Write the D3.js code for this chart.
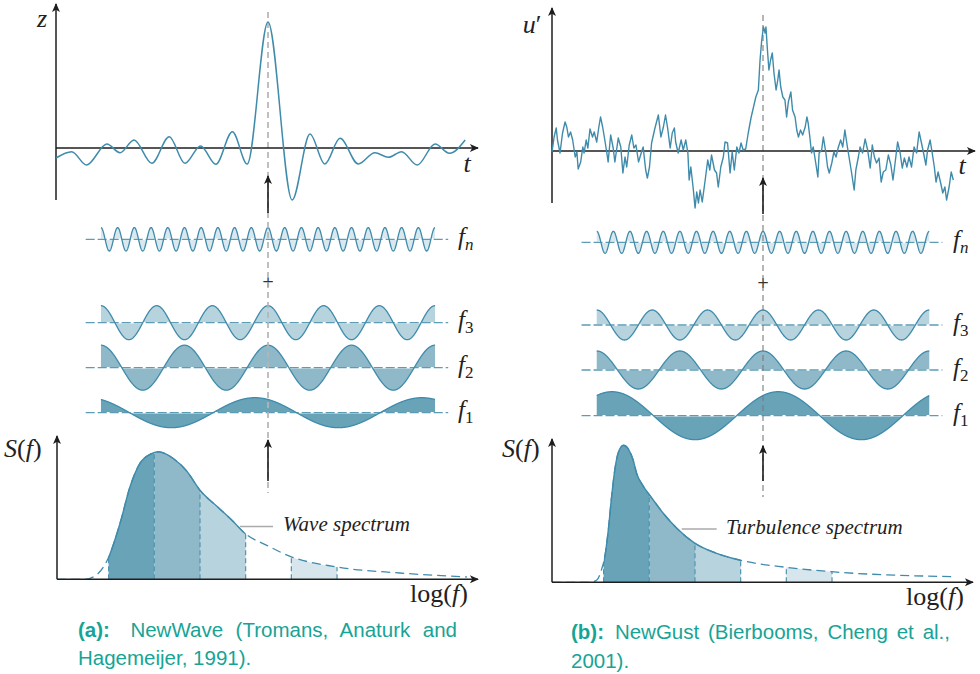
<!DOCTYPE html>
<html lang="en">
<head>
<meta charset="UTF-8">
<title>NewWave and NewGust</title>
<script src="https://d3js.org/d3.v7.min.js"></script>
<style>
  body { margin: 0; background: #fff; }
  .math { font-family: "Liberation Serif", "Times New Roman", serif; font-style: italic; fill: #222; }
  .caption { font-family: "Liberation Sans", Arial, sans-serif; font-size: 20.5px; fill: #16a496; }
</style>
</head>
<body>
<div id="chart"></div>
<script>

// ---- data ----
// NewWave surface elevation: [t, z] at the turning points
const waveSamples = [[0,-1],[3.7,-0.37],[7.2,-1.7],[12,0.4],[15.1,-0.47],[18.4,0.8],[22.6,-1.53],[26.7,1.13],
  [30.4,-1.53],[34.1,0.2],[37.7,-1.63],[41.6,1.63],[45.1,-1.6],[50,12.6],[55.7,-5.2],[59.9,1.4],[63.4,-1.6],
  [67,0.97],[71.3,-1.6],[75.2,-0.47],[78.4,-0.93],[81.5,-0.37],[85.2,-1.7],[89.4,0.4],[92.8,-0.53],[96.5,0.8]];

// NewGust turbulent velocity: [t, u']
const gustSamples = [[0,-0.1],[0.5,1.4],[1,2.3],[1.3,1.1],[1.9,-0.2],[2.5,1.8],[3.1,2.9],[3.5,2.4],[3.9,1.4],
  [4.4,1.9],[4.9,1.1],[5.5,-0.6],[5.9,-0.1],[6.2,-1.8],[6.8,-1.1],[7.3,0.4],[7.6,-0.2],[8.1,1.1],[8.5,0.3],
  [9,2.2],[9.6,1.4],[10,1.9],[10.6,0.9],[11.1,2.4],[11.5,3.4],[12,2.4],[12.4,1.4],[13,-0.2],[13.3,-1.1],
  [13.9,1.6],[14.5,0.3],[14.9,-1.1],[15.7,1.3],[16.3,0.4],[16.8,-2.2],[17.3,-0.6],[17.7,-1.6],[18.3,0.6],
  [18.9,1.6],[19.4,0.3],[19.9,0.6],[20.5,-1.1],[21,-0.4],[21.6,0.4],[22.2,-1.9],[22.6,-2.7],[23.1,-1.6],
  [23.6,0.8],[24.4,2.3],[25.2,3.6],[25.8,1.4],[26.4,2.4],[26.9,3.6],[27.4,2.3],[28,0.3],[28.5,1.8],[29,2.3],
  [29.3,0.9],[29.9,-0.2],[30.6,1.1],[31.1,0.1],[31.7,1.1],[32.2,-0.2],[32.5,-2.9],[32.9,-1.6],[33.5,-3.9],
  [33.9,-5.7],[34.3,-4.1],[34.7,-5.2],[35.1,-3.9],[35.6,-5.1],[36.3,-2.9],[36.9,-0.9],[37.4,-1.9],[37.8,-0.4],
  [38.5,-1.9],[39,-2.2],[39.4,-3.6],[40,-1.6],[40.6,-0.6],[41,0.9],[41.6,0.8],[42.2,-2.2],[42.7,-0.1],
  [43.2,-1.9],[43.8,0.4],[44.3,-0.2],[44.8,0.8],[45.3,0.1],[45.9,0.2],[46.5,1.8],[47.2,3.4],[47.7,4.3],
  [48.3,5.4],[48.9,6.1],[49.3,9.1],[49.7,11.1],[50.1,12.4],[50.5,11.8],[50.7,12.4],[51,10.4],[51.4,8.1],
  [51.8,9.1],[52.2,9.8],[52.6,7.8],[53.1,6.1],[53.5,7.1],[53.8,8.1],[54.2,6.4],[54.7,5.4],[55.2,5.1],
  [55.6,3.4],[56,4.9],[56.6,5.9],[57,4.1],[57.6,3.4],[58,2.1],[58.4,1.4],[58.9,2.1],[59.4,1.6],[60,2.4],
  [60.4,3.4],[60.7,2.8],[61.1,1.4],[61.5,-0.2],[61.9,0.4],[62.5,-1.2],[63,-2.6],[63.3,-0.2],[63.9,0.1],
  [64.3,1.4],[64.9,-0.2],[65.3,-1.6],[65.7,-2.2],[66.3,-1.2],[66.8,-0.1],[67.3,-0.6],[67.8,0.3],[68.4,1.1],
  [68.9,0.4],[69.4,2.1],[70,0.4],[70.5,-0.9],[71,-2.2],[71.6,-3.9],[72,-1.9],[72.6,-0.6],[73,0.4],
  [73.6,-0.2],[74.2,1.2],[74.8,0.1],[75.4,-1.7],[75.9,0.6],[76.4,-0.6],[76.9,-1.2],[77.5,-0.7],[78,-3.1],
  [78.5,-2.1],[79.1,-1.9],[79.7,-0.4],[80.3,-1.4],[80.8,-2.9],[81.3,-1.2],[81.9,0.9],[82.5,-0.2],[83,-1.7],
  [83.5,-0.7],[84.1,-1.6],[84.6,-0.6],[85.2,-1.6],[85.8,0.4],[86.4,-0.2],[87,1.9],[87.4,1.1],[88,-0.1],
  [88.6,-1.4],[89,0.1],[89.6,1.1],[90.1,-0.2],[90.6,-1.6],[91,-3.1],[91.5,-2.1],[92.1,-3.2],[92.6,-4.2],
  [93.1,-3.6],[93.5,-4.9],[94.1,-3.6],[94.6,-2.1],[95.1,-2.9]];

// harmonic components, top to bottom: f_n, f_3, f_2, f_1
const compSubs = ["n", "3", "2", "1"];
const compPeriod = [3.94, 13.13, 19.7, 39.4];
const waveCompAmp = [1.17, 1.7, 2.25, 1.5];
const gustCompAmp = [1.1, 1.5, 1.9, 2.4];
const waveCompPeak = [50, 50, 50, 46.9];
const gustCompPeak = [50, 50, 50, 53.6];
const compSpan = [10.6, 89.4];

// spectra: [log f, S]
const waveSpec = [[0,0],[6.6,0],[9,0.33],[12.1,2.1],[14.9,5.6],[17.3,9.3],[19.6,11.6],[22,12.5],[24,12.75],
  [27.4,12.1],[30.7,10.8],[33.8,8.9],[37.8,7.3],[41.6,5.8],[44.4,4.6],[49.6,3.4],[55.1,2.3],[65.7,1.26],
  [81.1,0.63],[96.9,0.23]];
const gustSpec = [[0,0],[9,0],[10.6,0.23],[11.8,1.4],[12.5,2.6],[13.3,5.2],[14.1,8.6],[14.9,11.4],[15.7,13],
  [16.9,13.7],[18.1,13.3],[19.2,12.2],[20,10.9],[21.6,9.6],[23.3,8.6],[26.3,6.9],[29.5,5.4],[33.8,3.9],
  [38.9,2.9],[44.6,2.2],[55.3,1.5],[66.1,1.06],[95.3,0.56]];
const bandEdges = [[12.2, 23], [23, 33.8], [33.8, 44.6], [55.4, 66.2]];

// colours
const lineCol = "#3f8bab";
const compFill = ["#d9e8ee", "#b6d3de", "#8fb9c9", "#68a3b8"];
const bandFill = ["#68a3b8", "#8fb9c9", "#b6d3de", "#d7e6ec"];
const axisCol = "#1e1e1e";

const svg = d3.select("#chart").append("svg")
  .attr("width", 980)
  .attr("height", 674);

svg.append("defs").append("marker")
  .attr("id", "arrow")
  .attr("viewBox", "0 0 10 10")
  .attr("refX", 9).attr("refY", 5)
  .attr("markerWidth", 10).attr("markerHeight", 9)
  .attr("markerUnits", "userSpaceOnUse")
  .attr("orient", "auto")
  .append("path")
  .attr("d", "M0,0.6 L10,5 L0,9.4 L2.6,5 Z")
  .attr("fill", axisCol);

function arrow(g, x1, y1, x2, y2, w) {
  g.append("line")
    .attr("x1", x1).attr("y1", y1).attr("x2", x2).attr("y2", y2)
    .attr("stroke", axisCol).attr("stroke-width", w || 1.5)
    .attr("marker-end", "url(#arrow)");
}

function mathLabel(g, x, y, parts, size) {
  const t = g.append("text").attr("class", "math").attr("x", x).attr("y", y).style("font-size", size + "px");
  parts.forEach(p => {
    const s = t.append("tspan").text(p[0]);
    if (p[1] === "up") s.style("font-style", "normal");
    if (p[2]) s.attr("dy", p[2]).style("font-size", p[3] + "px");
  });
  return t;
}

function drawPanel(cfg) {
  const g = svg.append("g");
  const x = d3.scaleLinear().domain([0, 100]).range(cfg.tRange);
  const y = d3.scaleLinear().domain([-5, 15]).range([cfg.zeroY + 50, cfg.zeroY - 150]);

  // ---- components ----
  const ts = d3.range(compSpan[0], compSpan[1] + 0.001, 0.05);
  cfg.compBase.forEach((base, i) => {
    const cy = d3.scaleLinear().domain([0, 1]).range([base, base - 10]);
    const pts = ts.map(t => [t, cfg.amp[i] * Math.cos(2 * Math.PI * (t - cfg.peak[i]) / compPeriod[i])]);
    g.append("path")
      .attr("d", d3.area().x(d => x(d[0])).y0(cy(0)).y1(d => cy(d[1]))(pts))
      .attr("fill", compFill[i]);
    g.append("line")
      .attr("x1", x(compSpan[0])).attr("x2", x(compSpan[1]))
      .attr("y1", cy(0)).attr("y2", cy(0))
      .attr("stroke", "#fff").attr("stroke-width", 1.4);
    g.append("line")
      .attr("x1", x(7)).attr("x2", x(92.5))
      .attr("y1", cy(0)).attr("y2", cy(0))
      .attr("stroke", "#5c9db5").attr("stroke-width", 1.3)
      .attr("stroke-dasharray", "9,3");
    g.append("path")
      .attr("d", d3.line().x(d => x(d[0])).y(d => cy(d[1]))(pts))
      .attr("fill", "none").attr("stroke", lineCol).attr("stroke-width", 1.3);
    const sub = compSubs[i];
    mathLabel(g, cfg.labelX, cfg.compLabelY[i],
      [["f"], [sub, sub === "n" ? "it" : "up", 5, 17]], 25);
  });

  // plus sign
  g.append("text")
    .attr("x", x(50)).attr("y", cfg.plusY)
    .attr("text-anchor", "middle")
    .style("font-family", "DejaVu Sans, sans-serif").style("font-size", "15px")
    .attr("fill", "#333")
    .text("+");

  // centre dashed line
  g.append("line")
    .attr("x1", x(50)).attr("x2", x(50))
    .attr("y1", cfg.dashTop).attr("y2", cfg.dashBottom)
    .attr("stroke", cfg.dashCol).attr("stroke-width", cfg.dashW)
    .attr("stroke-dasharray", "6,4");

  // ---- time signal ----
  arrow(g, x(0), cfg.yAxisBottom, x(0), cfg.yAxisTop);
  arrow(g, x(0), y(0), cfg.tTip, y(0));
  g.append("path")
    .datum(cfg.signal)
    .attr("d", d3.line().x(d => x(d[0])).y(d => y(d[1])).curve(cfg.curve))
    .attr("fill", "none").attr("stroke", lineCol).attr("stroke-width", cfg.signalW)
    .attr("stroke-linejoin", "round");
  mathLabel(g, cfg.yLabel[0], cfg.yLabel[1], cfg.yLabelParts, 26).attr("text-anchor", "middle");
  mathLabel(g, cfg.tLabel[0], cfg.tLabel[1], [["t"]], 26).attr("text-anchor", "middle");

  // arrows along the centre line
  arrow(g, x(50), cfg.arrow1[0], x(50), cfg.arrow1[1], 1.6);
  arrow(g, x(50), cfg.arrow2[0], x(50), cfg.arrow2[1], 1.6);

  // ---- spectrum ----
  const xs = d3.scaleLinear().domain([0, 100]).range(cfg.specRange);
  const ys = d3.scaleLinear().domain([0, 14]).range([cfg.specBase, cfg.specBase - 140]);
  const specLine = d3.line().x(d => xs(d[0])).y(d => ys(d[1])).curve(d3.curveMonotoneX);
  const specArea = d3.area().x(d => xs(d[0])).y0(ys(0)).y1(d => ys(d[1])).curve(d3.curveMonotoneX);

  const areaId = "area-" + cfg.key;
  svg.select("defs").append("clipPath").attr("id", areaId)
    .append("path").attr("d", specArea(cfg.spec));

  bandEdges.forEach((b, i) => {
    const cid = "band-" + cfg.key + i;
    svg.select("defs").append("clipPath").attr("id", cid)
      .append("rect")
      .attr("x", xs(b[0])).attr("width", xs(b[1]) - xs(b[0]))
      .attr("y", 0).attr("height", 674);
    g.append("path")
      .attr("d", specArea(cfg.spec))
      .attr("fill", bandFill[i])
      .attr("clip-path", `url(#${cid})`);
  });

  const edges = [];
  bandEdges.forEach(b => { if (!edges.includes(b[0])) edges.push(b[0]); if (!edges.includes(b[1])) edges.push(b[1]); });
  const eg = g.append("g").attr("clip-path", `url(#${areaId})`);
  eg.selectAll("line").data(edges).join("line")
    .attr("x1", d => xs(d)).attr("x2", d => xs(d))
    .attr("y1", ys(0)).attr("y2", ys(14))
    .attr("stroke", "#4f93ae").attr("stroke-width", 1.2)
    .attr("stroke-dasharray", "5,3");

  g.append("path")
    .attr("d", specLine(cfg.spec))
    .attr("fill", "none").attr("stroke", lineCol).attr("stroke-width", 1.3)
    .attr("stroke-dasharray", "9,5");
  const solidId = "solid-" + cfg.key;
  svg.select("defs").append("clipPath").attr("id", solidId)
    .append("rect")
    .attr("x", xs(bandEdges[0][0])).attr("width", xs(bandEdges[2][1]) - xs(bandEdges[0][0]))
    .attr("y", 0).attr("height", 674);
  g.append("path")
    .attr("d", specLine(cfg.spec))
    .attr("fill", "none").attr("stroke", lineCol).attr("stroke-width", 1.4)
    .attr("clip-path", `url(#${solidId})`);

  arrow(g, xs(0), ys(0), xs(0), cfg.specTop);
  arrow(g, xs(0), ys(0), cfg.specTip, ys(0));

  mathLabel(g, cfg.sLabel[0], cfg.sLabel[1], [["S"], ["(", "up"], ["f"], [")", "up"]], 26);
  mathLabel(g, cfg.logLabel[0], cfg.logLabel[1], [["log(", "up"], ["f"], [")", "up"]], 26);

  g.append("line")
    .attr("x1", cfg.leader[0]).attr("x2", cfg.leader[1])
    .attr("y1", cfg.leader[2]).attr("y2", cfg.leader[2])
    .attr("stroke", "#aaa").attr("stroke-width", 1.3);
  g.append("text")
    .attr("class", "math")
    .attr("x", cfg.specText[0]).attr("y", cfg.specText[1])
    .style("font-size", "21px").attr("fill", "#333")
    .text(cfg.specName);

  // ---- caption (first line justified to the column width) ----
  const c = cfg.caption;
  const t1 = g.append("text").attr("class", "caption").attr("x", c.x).attr("y", c.y1);
  t1.append("tspan").style("font-weight", "bold").text(c.label);
  t1.append("tspan").attr("dx", c.gap).text(" " + c.line1);
  const w = t1.node().getComputedTextLength() + c.gap;
  const n = (c.line1.match(/ /g) || []).length + 1;
  t1.style("word-spacing", ((c.width - w) / n) + "px");
  g.append("text").attr("class", "caption").attr("x", c.x).attr("y", c.y2).text(c.line2);
}

drawPanel({
  key: "wave",
  tRange: [56, 480], zeroY: 148, yAxisTop: 4, yAxisBottom: 200, tTip: 478,
  signal: waveSamples, curve: d3.curveMonotoneX, signalW: 1.5,
  yLabel: [42, 27], yLabelParts: [["z"]], tLabel: [467, 172],
  dashTop: 12, dashBottom: 493, dashCol: "#b5b5b5", dashW: 1.7,
  arrow1: [213, 176], arrow2: [481, 440],
  amp: waveCompAmp, peak: waveCompPeak,
  compBase: [239.3, 322.7, 367.7, 412.7], compLabelY: [245, 328, 373, 418], labelX: 458,
  plusY: 287,
  spec: waveSpec, specRange: [57, 480], specBase: 579.3, specTop: 436, specTip: 478,
  sLabel: [4, 457], logLabel: [410, 602],
  leader: [240, 273, 526.5], specText: [283, 531], specName: "Wave spectrum",
  caption: { x: 78, y1: 637, y2: 665, width: 379, gap: 8, label: "(a):",
    line1: "NewWave (Tromans, Anaturk and", line2: "Hagemeijer, 1991)." }
});

drawPanel({
  key: "gust",
  tRange: [552, 974], zeroY: 151, yAxisTop: 8, yAxisBottom: 203, tTip: 975,
  signal: gustSamples, curve: d3.curveLinear, signalW: 1.4,
  yLabel: [532, 33], yLabelParts: [["u"], ["\u2032", "up"]], tLabel: [962, 174],
  dashTop: 15, dashBottom: 497, dashCol: "#7a7a7a", dashW: 1.1,
  arrow1: [214, 178], arrow2: [481, 446],
  amp: gustCompAmp, peak: gustCompPeak,
  compBase: [242.3, 325, 370, 415.7], compLabelY: [248, 331, 376, 421], labelX: 953,
  plusY: 288,
  spec: gustSpec, specRange: [552, 975], specBase: 582.3, specTop: 439, specTip: 973,
  sLabel: [502, 457], logLabel: [906, 605],
  leader: [681.7, 716.7, 529], specText: [726, 534], specName: "Turbulence spectrum",
  caption: { x: 571, y1: 639, y2: 668, width: 379, gap: 2, label: "(b):",
    line1: "NewGust (Bierbooms, Cheng et al.,", line2: "2001)." }
});

</script>
</body>
</html>
